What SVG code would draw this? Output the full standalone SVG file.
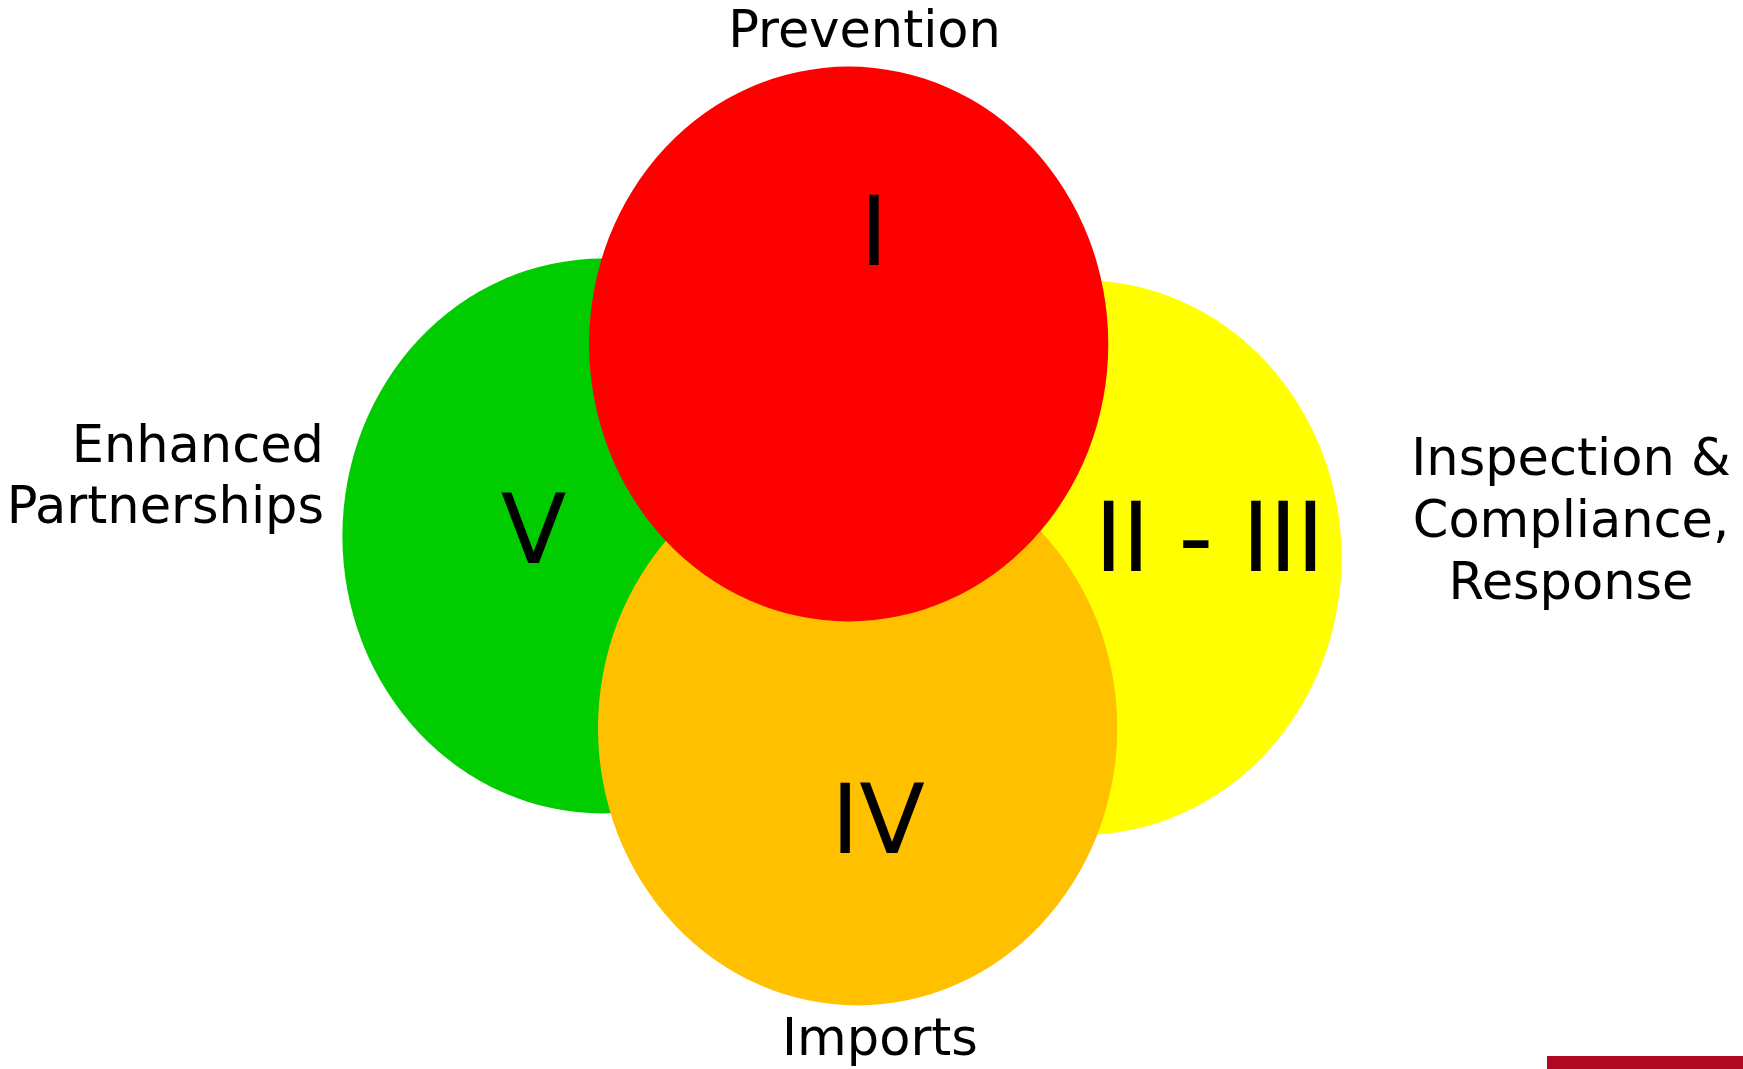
<svg xmlns="http://www.w3.org/2000/svg" width="1743" height="1069" viewBox="0 0 1743 1069">
<style>
text{font-family:"DejaVu Sans","Liberation Sans",sans-serif;fill:#000}
.lbl{font-size:51px}
.num{font-size:96px;text-anchor:middle}
</style>
<rect width="1743" height="1069" fill="#fff"/>
<g id="node-v"><ellipse cx="602" cy="536" rx="259.6" ry="277.4" fill="#00CC00"/></g>
<g id="node-ii-iii"><ellipse cx="1082" cy="557.5" rx="259.6" ry="277.4" fill="#FFFF00"/></g>
<g id="node-iv"><ellipse cx="857.6" cy="728" rx="259.6" ry="277.4" fill="#FFC000"/></g>
<g id="node-i"><ellipse cx="848.7" cy="344" rx="259.6" ry="277.4" fill="#FF0000"/></g>
<g id="connectors"></g>
<g id="numerals">
<text class="num" x="874" y="265">I</text>
<text class="num" x="533.5" y="563">V</text>
<text class="num" x="1209" y="571" letter-spacing="-1">II - III</text>
<text class="num" x="878" y="853">IV</text>
</g>
<g id="labels">
<text class="lbl" x="864.5" y="46.5" text-anchor="middle">Prevention</text>
<text class="lbl" x="324" y="461.5" text-anchor="end">Enhanced</text>
<text class="lbl" x="324" y="523" text-anchor="end">Partnerships</text>
<text class="lbl" x="1571" y="475" text-anchor="middle">Inspection &amp;</text>
<text class="lbl" x="1571" y="537" text-anchor="middle">Compliance,</text>
<text class="lbl" x="1571" y="599" text-anchor="middle">Response</text>
<text class="lbl" x="880" y="1055" text-anchor="middle">Imports</text>
</g>
<rect x="1547" y="1056" width="196" height="13" fill="#B00A22"/>
</svg>
